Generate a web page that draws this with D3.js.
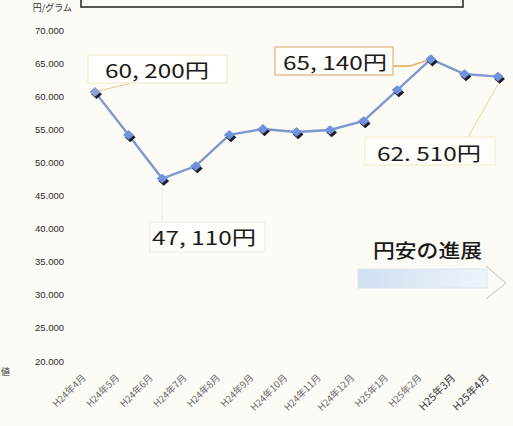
<!DOCTYPE html>
<html>
<head>
<meta charset="utf-8">
<script src="https://cdn.jsdelivr.net/npm/d3@7/dist/d3.min.js"></script>
<style>
  html, body { margin: 0; padding: 0; background: #fcfbf6; }
  svg { display: block; }
</style>
</head>
<body>
<div id="chart"></div>
<script>
// Monthly price (円) from H24年4月 to H25年4月
const months = ["H24年4月", "H24年5月", "H24年6月", "H24年7月", "H24年8月", "H24年9月",
                "H24年10月", "H24年11月", "H24年12月", "H25年1月", "H25年2月", "H25年3月", "H25年4月"];
const prices = [60200, 53700, 47110, 49000, 53700, 54600, 54140, 54440, 55800, 60480, 65140, 62900, 62510];
const yTicks = [20000, 25000, 30000, 35000, 40000, 45000, 50000, 55000, 60000, 65000, 70000];
const tickLabels = ["20.000", "25.000", "30.000", "35.000", "40.000", "45.000",
                    "50.000", "55.000", "60.000", "65.000", "70.000"];
// Callouts: index of the month they point to and their text
const callouts = [
  { i: 0, text: "60, 200円" },
  { i: 2, text: "47, 110円" },
  { i: 10, text: "65, 140円" },
  { i: 12, text: "62. 510円" }
];
const trendLabel = "円安の進展";

const W = 513, H = 426;
const jp = "'Noto Sans CJK JP', 'Noto Sans', sans-serif";

const svg = d3.select("#chart").append("svg")
  .attr("width", W).attr("height", H)
  .attr("viewBox", `0 0 ${W} ${H}`);

svg.append("rect").attr("width", W).attr("height", H).attr("fill", "#fcfbf6");

const x = d3.scalePoint().domain(months).range([95, 498]);
const y = d3.scaleLinear().domain([20000, 70000]).range([358, 27]);

// Title frame running off the top edge
svg.append("rect")
  .attr("x", 81).attr("y", -12).attr("width", 382).attr("height", 19)
  .attr("fill", "none").attr("stroke", "#222").attr("stroke-width", 1.5);
svg.append("text")
  .attr("x", 72).attr("y", 11).attr("text-anchor", "end")
  .attr("font-family", jp).attr("font-size", 9).attr("fill", "#333")
  .text("円/グラム");
svg.append("text")
  .attr("x", 1).attr("y", 375)
  .attr("font-family", jp).attr("font-size", 9).attr("fill", "#333")
  .text("値");

// Y axis: labels only, no line or ticks
const yAxis = d3.axisLeft(y).tickValues(yTicks)
  .tickFormat((d, i) => tickLabels[i]).tickSize(0).tickPadding(0);
const gy = svg.append("g").attr("transform", "translate(64,3)").call(yAxis);
gy.select(".domain").remove();
gy.selectAll("text")
  .attr("font-family", "'Liberation Sans', Arial, sans-serif")
  .attr("font-size", 9.5).attr("fill", "#2a2a2a");

// X axis: rotated month labels, no line
const xAxis = d3.axisBottom(x).tickSize(0).tickPadding(0);
const gx = svg.append("g").call(xAxis);
gx.select(".domain").remove();
gx.selectAll(".tick").attr("transform", d => `translate(${x(d) - 11},376)`);
gx.selectAll("text")
  .attr("font-family", jp)
  .attr("font-size", (d, i) => i >= 11 ? 10.5 : 9.5)
  .attr("fill", (d, i) => i >= 11 ? "#333" : "#6a6a6a")
  .attr("text-anchor", "end")
  .attr("dy", "0.35em").attr("y", 0)
  .attr("transform", "rotate(-45)");

// Leader lines for the callouts
const leader = svg.append("g").attr("fill", "none").attr("stroke-width", 1);
leader.append("path")
  .attr("d", `M${x(months[0])},${y(prices[0])} L132,83`)
  .attr("stroke", "#f2c98a");
leader.append("path")
  .attr("d", `M${x(months[2])},${y(prices[2])} L${x(months[2])},225`)
  .attr("stroke", "#eeeadf");
leader.append("path")
  .attr("d", `M393,66 L410,66 L${x(months[10])},${y(prices[10])}`)
  .attr("stroke", "#e8a35a").attr("stroke-width", 1.3);
leader.append("path")
  .attr("d", `M${x(months[12])},${y(prices[12]) + 8} L468,137`)
  .attr("stroke", "#f6d38f");

// Callout boxes
const boxes = [
  { x: 88, y: 55, w: 139, h: 28, stroke: "#f4ead3", tx: 105, ty: 78, c: callouts[0] },
  { x: 150, y: 222, w: 115, h: 30, stroke: "#efefe8", tx: 152, ty: 245, c: callouts[1] },
  { x: 275, y: 47, w: 118, h: 28, stroke: "#e0b27a", tx: 283, ty: 70, c: callouts[2] },
  { x: 365, y: 137, w: 130, h: 28, stroke: "#f6ecd6", tx: 377, ty: 161, c: callouts[3] }
];
const cb = svg.append("g");
cb.selectAll("rect").data(boxes).join("rect")
  .attr("x", d => d.x).attr("y", d => d.y)
  .attr("width", d => d.w).attr("height", d => d.h)
  .attr("fill", "#fffefa").attr("stroke", d => d.stroke).attr("stroke-width", 1.2);
cb.selectAll("text").data(boxes).join("text")
  .attr("x", d => d.tx).attr("y", d => d.ty)
  .attr("textLength", 104).attr("lengthAdjust", "spacingAndGlyphs")
  .attr("font-family", jp).attr("font-size", 19).attr("fill", "#1a1a1a")
  .text(d => d.c.text);

// Price line
const line = d3.line().x((d, i) => x(months[i])).y(d => y(d));
svg.append("path").datum(prices)
  .attr("d", line)
  .attr("fill", "none").attr("stroke", "#7d97cf").attr("stroke-width", 2.4);

// Diamond markers with a dark drop edge
const diamond = d3.symbol().type(d3.symbolDiamond2).size(66);
const mk = svg.append("g");
mk.selectAll("path.shadow").data(prices).join("path")
  .attr("class", "shadow")
  .attr("d", diamond)
  .attr("transform", (d, i) => `translate(${x(months[i]) + 1.6},${y(d) + 2.4}) scale(1.05,0.95)`)
  .attr("fill", "#1b1d2b");
mk.selectAll("path.mark").data(prices).join("path")
  .attr("class", "mark")
  .attr("d", diamond)
  .attr("transform", (d, i) => `translate(${x(months[i])},${y(d)}) scale(1.1,0.95)`)
  .attr("fill", (d, i) => i === 0 ? "#8ea2d8" : "#7092db");

// Weakening-yen arrow
const defs = svg.append("defs");
const grad = defs.append("linearGradient").attr("id", "arrowFill")
  .attr("x1", "0").attr("x2", "1").attr("y1", "0").attr("y2", "0");
grad.append("stop").attr("offset", "0%").attr("stop-color", "#cfe0f2");
grad.append("stop").attr("offset", "100%").attr("stop-color", "#eef4fa");
svg.append("text")
  .attr("x", 373).attr("y", 258)
  .attr("textLength", 109).attr("lengthAdjust", "spacingAndGlyphs")
  .attr("font-family", jp).attr("font-size", 19).attr("font-weight", 500)
  .attr("fill", "#1a1a1a")
  .text(trendLabel);
svg.append("rect")
  .attr("x", 358).attr("y", 269).attr("width", 129).attr("height", 19)
  .attr("fill", "url(#arrowFill)").attr("stroke", "#dde6ee").attr("stroke-width", 1);
svg.append("path")
  .attr("d", "M486,266 L506,283 L486,299")
  .attr("fill", "none").attr("stroke", "#b9bcc2").attr("stroke-width", 1);
</script>
</body>
</html>
